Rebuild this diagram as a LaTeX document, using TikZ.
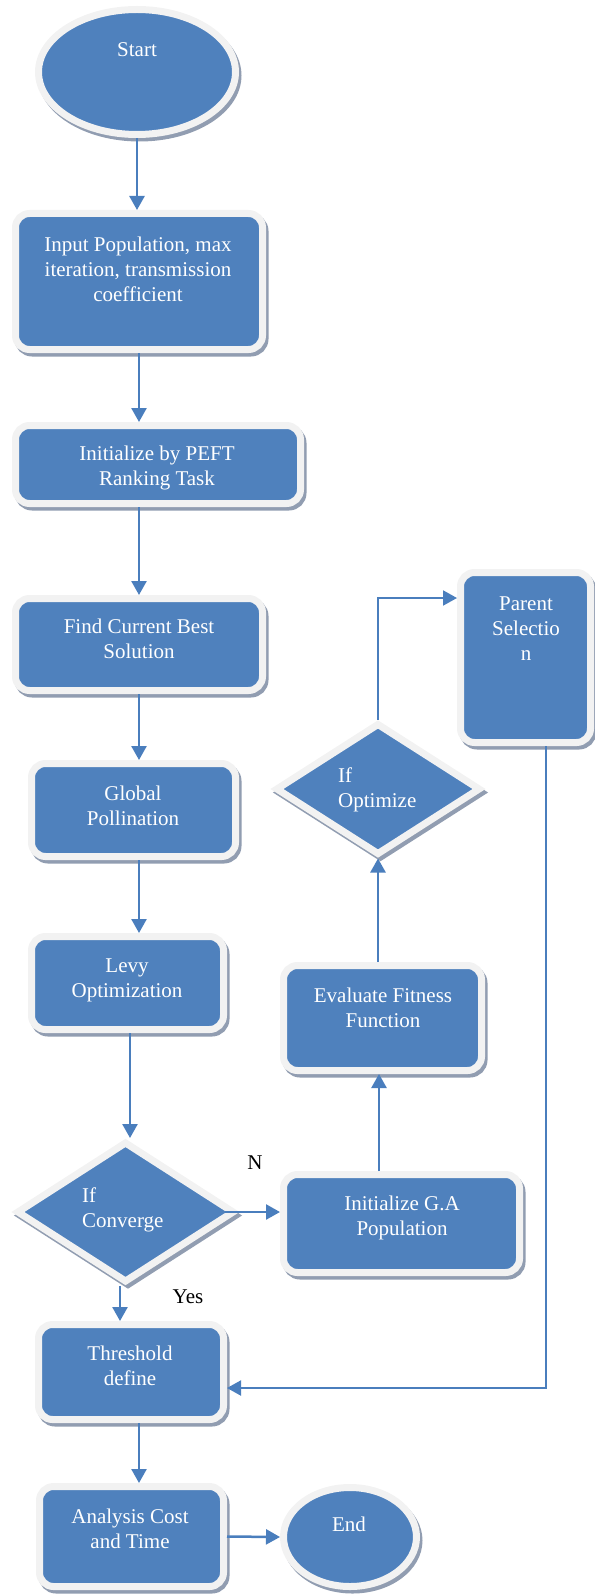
\documentclass[tikz,border=0pt]{standalone}
\usepackage{fontspec}
\setmainfont{Liberation Serif}
\usetikzlibrary{shapes.geometric,arrows.meta,calc}
\definecolor{boxblue}{HTML}{4F81BD}
\definecolor{rimgrey}{HTML}{F2F2F2}
\definecolor{shadowc}{RGB}{145,157,177}
\definecolor{linkblue}{HTML}{4A7EBD}
\newcommand\mlines[2][c]{\begin{tabular}[t]{@{}#1@{}}#2\end{tabular}}
\begin{document}
\begin{tikzpicture}[x=1pt,y=-1pt,
  shp/.style={fill=boxblue, draw=rimgrey, line width=7pt, inner sep=0pt,
    preaction={draw=shadowc, fill=shadowc, transform canvas={shift={(2.5pt,-3.5pt)}}}},
  boxnode/.style={shp, rectangle, rounded corners=14pt},
  ovalnode/.style={shp, ellipse},
  decnode/.style={shp, diamond},
  txt/.style={text=white, inner sep=0pt, anchor=base, font=\fontsize{21}{25}\selectfont},
  lbl/.style={text=black, inner sep=0pt, font=\fontsize{21}{25}\selectfont},
  link/.style={draw=linkblue, line width=2.5pt, -{Triangle[width=15pt,length=14pt]}},
  thin link/.style={link, line width=2pt}
]
\useasboundingbox (0,0) rectangle (594,1594);

% shapes
\node[ovalnode, minimum width=197pt, minimum height=125pt] (start) at (137,72) {};
\node[boxnode, minimum width=247pt, minimum height=136pt] (input) at (139,281.5) {};
\node[boxnode, minimum width=285pt, minimum height=78pt] (peft) at (158,464.5) {};
\node[boxnode, minimum width=247pt, minimum height=92pt] (find) at (139,644.5) {};
\node[boxnode, minimum width=204pt, minimum height=93pt] (global) at (133.5,810) {};
\node[boxnode, minimum width=192pt, minimum height=93pt] (levy) at (127.5,983) {};
\node[decnode, minimum width=218pt, minimum height=141pt] (conv) at (125.5,1212) {};
\node[boxnode, minimum width=236pt, minimum height=98pt] (initga) at (401.5,1223.5) {};
\node[boxnode, minimum width=198pt, minimum height=105pt] (eval) at (382.5,1018) {};
\node[decnode, minimum width=205pt, minimum height=132pt] (opt) at (378,789) {};
\node[boxnode, minimum width=130pt, minimum height=170pt] (parent) at (525.5,657.5) {};
\node[boxnode, minimum width=185pt, minimum height=95pt] (thresh) at (131,1372) {};
\node[boxnode, minimum width=184pt, minimum height=100pt] (analysis) at (131.5,1536.5) {};
\node[ovalnode, minimum width=133pt, minimum height=99pt] (theend) at (350,1537) {};

% texts
\node[txt] (tStart) at (137,57) {Start};
\node[txt] (tInput) at (138,252) {\mlines{Input Population, max\\iteration, transmission\\coefficient}};
\node[txt] (tPeft) at (157,460) {\mlines{Initialize by PEFT\\Ranking Task}};
\node[txt] (tFind) at (139,633) {\mlines{Find Current Best\\Solution}};
\node[txt] (tGlobal) at (133,800) {\mlines{Global\\Pollination}};
\node[txt] (tLevy) at (127,972) {\mlines{Levy\\Optimization}};
\node[txt, anchor=base west] (tConv) at (82,1202) {\mlines[l]{If\\Converge}};
\node[txt] (tGa) at (402,1210) {\mlines{Initialize G.A\\Population}};
\node[txt] (tEval) at (383,1002) {\mlines{Evaluate Fitness\\Function}};
\node[txt, anchor=base west] (tOpt) at (338,782) {\mlines[l]{If\\Optimize}};
\node[txt] (tParent) at (526,610) {\mlines{Parent\\Selectio\\n}};
\node[txt] (tThresh) at (130,1360) {\mlines{Threshold\\define}};
\node[txt] (tAnalysis) at (130,1523) {\mlines{Analysis Cost\\and Time}};
\node[txt] (tEnd) at (349,1531) {End};
\node[lbl] (nLbl) at (255,1163) {N};
\node[lbl] (yLbl) at (188,1297) {Yes};

% connectors
\draw[link] (start.south) -- (start.south |- input.north);
\draw[link] (input.south) -- (input.south |- peft.north);
\draw[link] (find.north |- peft.south) -- (find.north);
\draw[link] (find.south) -- (find.south |- global.north);
\draw[link] ([xshift=5.5pt]global.south) -- ([xshift=5.5pt]global.south |- levy.north);
\draw[link] ([xshift=2.5pt]levy.south) -- ([xshift=2.5pt]levy.south |- conv.north);
\draw[link] ([xshift=-13pt]conv.east) -- (conv.east -| initga.west);
\draw[link] ([xshift=-3.5pt]eval.south |- initga.north) -- ([xshift=-3.5pt]eval.south);
\draw[link] (opt.south |- eval.north) -- (opt.south);
\draw[thin link] (opt.north) |- ([yshift=59.5pt]parent.west);
\draw[thin link] ([xshift=20.5pt]parent.south) |- ([yshift=-16pt]thresh.east);
\draw[link] ([xshift=-5.5pt]conv.south) -- ([xshift=-5.5pt]conv.south |- thresh.north);
\draw[link] ([xshift=8pt]thresh.south) -- ([xshift=8pt]thresh.south |- analysis.north);
\draw[link] (analysis.east) -- (theend.west);
\end{tikzpicture}
\end{document}
